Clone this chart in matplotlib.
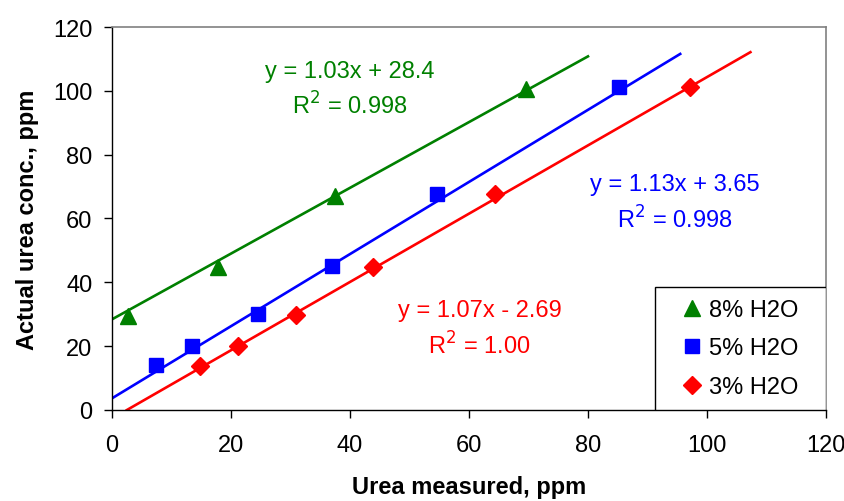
import numpy as np
import matplotlib
matplotlib.use("Agg")
import matplotlib.pyplot as plt
from matplotlib.patches import Rectangle

plt.rcParams['font.family'] = ['Liberation Sans', 'DejaVu Sans']

# data
measured_8 = [2.7, 17.9, 37.5, 69.6]
actual_8 = [29.6, 44.7, 67.2, 100.6]
measured_5 = [7.4, 13.4, 24.6, 36.9, 54.7, 85.2]
actual_5 = [14.0, 20.2, 30.1, 45.0, 67.8, 101.3]
measured_3 = [14.8, 21.1, 31.0, 43.9, 64.4, 97.2]
actual_3 = [13.7, 20.0, 29.8, 44.7, 67.6, 101.2]

# trendline coefficients and extents (x range of the drawn line)
fit_slope = [1.03, 1.13, 1.07]
fit_icpt = [28.4, 3.65, -2.69]
fit_xrange = [(0, 80), (0, 95.5), (2.5, 107.3)]
fit_labels = ["y = 1.03x + 28.4\nR$^2$ = 0.998",
              "y = 1.13x + 3.65\nR$^2$ = 0.998",
              "y = 1.07x - 2.69\nR$^2$ = 1.00"]
label_pos = [(40, 100.5), (94.6, 64.9), (61.8, 25.5)]

series = [("8% H2O", measured_8, actual_8, "#008000", "^", 12),
          ("5% H2O", measured_5, actual_5, "#0000FF", "s", 10.5),
          ("3% H2O", measured_3, actual_3, "#FF0000", "D", 9)]

fs = 17

fig = plt.figure(figsize=(8.45, 5.02), dpi=100)
ax = fig.add_axes([0.1325, 0.1813, 0.845, 0.7629])

for i, (name, xs, ys, col, mk, ms) in enumerate(series):
    x0, x1 = fit_xrange[i]
    xl = np.array([x0, x1])
    ax.plot(xl, fit_slope[i] * xl + fit_icpt[i], color=col, lw=1.9, zorder=2)
    ax.plot(xs, ys, ls='none', marker=mk, ms=ms, color=col, label=name, zorder=3)
    ax.text(label_pos[i][0], label_pos[i][1], fit_labels[i], color=col,
            fontsize=fs, ha='center', va='center', linespacing=1.45,
            multialignment='center')

ax.set_xlim(0, 120)
ax.set_ylim(0, 120)
ax.set_xticks(range(0, 121, 20))
ax.set_yticks(range(0, 121, 20))
ax.tick_params(direction='out', length=6, width=1, labelsize=fs, pad=8)
ax.tick_params(axis='x', pad=11)
for s in ['top', 'right']:
    ax.spines[s].set_color('#808080')
    ax.spines[s].set_linewidth(1.2)
for s in ['left', 'bottom']:
    ax.spines[s].set_color('black')
    ax.spines[s].set_linewidth(1)

ax.set_xlabel("Urea measured, ppm", fontsize=fs, fontweight='bold', labelpad=14)
ax.set_ylabel("Actual urea conc., ppm", fontsize=fs, fontweight='bold', labelpad=10)

# legend box (wider than matplotlib's default padding)
box = Rectangle((0.7605, 0), 0.2395, 0.321, transform=ax.transAxes,
                facecolor='white', edgecolor='black', lw=1, zorder=4)
ax.add_patch(box)
leg = ax.legend(loc='center', bbox_to_anchor=(0.876, 0.161), frameon=False,
                fontsize=fs, handletextpad=0.1, handlelength=1.3,
                labelspacing=0.7, borderpad=0)
leg.set_zorder(5)

fig.savefig("out.png", dpi=100)
